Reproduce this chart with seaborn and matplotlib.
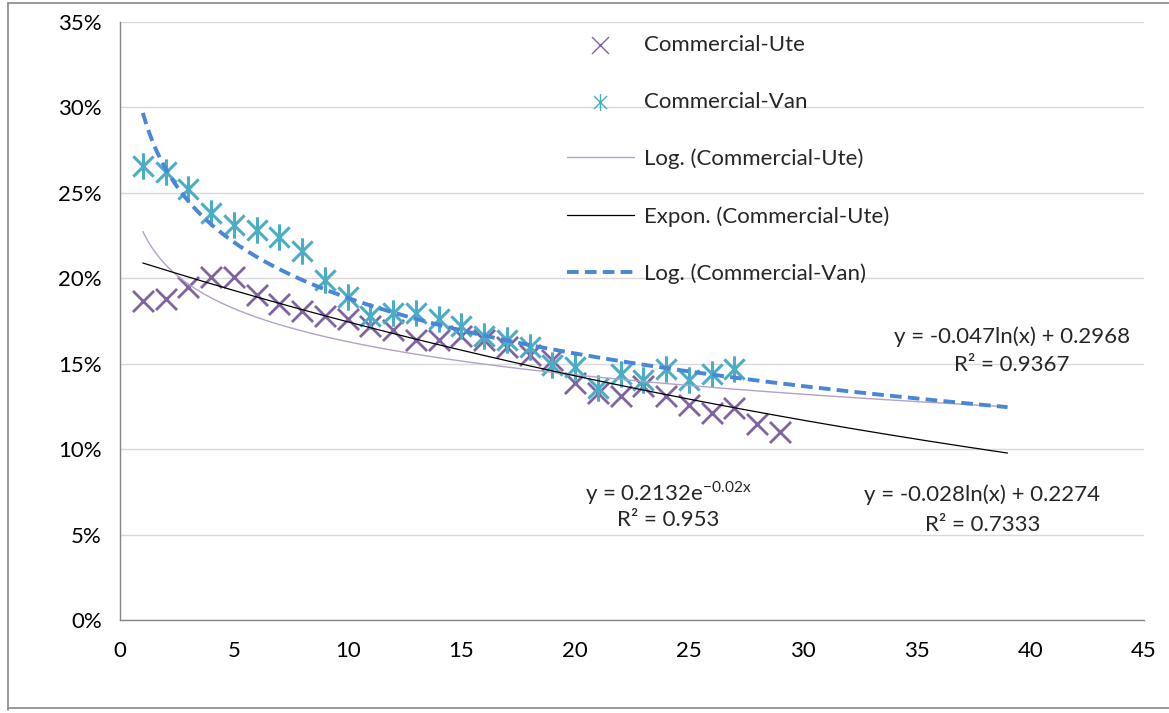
import numpy as np
import pandas as pd
import seaborn as sns
import matplotlib.pyplot as plt
from matplotlib.path import Path
from matplotlib.ticker import PercentFormatter, MultipleLocator
from matplotlib.lines import Line2D

# data
ute_x = list(range(1, 30))
ute_y = [0.187, 0.188, 0.195, 0.201, 0.201, 0.190, 0.185, 0.181, 0.178, 0.176,
         0.172, 0.170, 0.164, 0.164, 0.166, 0.164, 0.160, 0.155, 0.152, 0.139,
         0.133, 0.131, 0.137, 0.131, 0.126, 0.121, 0.124, 0.115, 0.110]
van_x = list(range(1, 28))
van_y = [0.266, 0.262, 0.252, 0.238, 0.231, 0.228, 0.224, 0.216, 0.199, 0.189,
         0.178, 0.1795, 0.1795, 0.176, 0.172, 0.166, 0.164, 0.160, 0.149, 0.148,
         0.136, 0.144, 0.1405, 0.147, 0.1405, 0.144, 0.147]

# trendline coefficients as shown on the chart
ute_log = (-0.028, 0.2274, 0.7333)
ute_exp = (0.2132, -0.02, 0.953)
van_log = (-0.047, 0.2968, 0.9367)
trend_x = np.linspace(1, 39, 200)

sns.set_theme(style="white")
plt.rcParams['font.family'] = ['Lato', 'DejaVu Sans']

ute_df = pd.DataFrame({'x': ute_x, 'y': ute_y})
van_df = pd.DataFrame({'x': van_x, 'y': van_y})
trend_df = pd.DataFrame({
    'x': trend_x,
    'ute_log': ute_log[0] * np.log(trend_x) + ute_log[1],
    'ute_exp': ute_exp[0] * np.exp(ute_exp[1] * trend_x),
    'van_log': van_log[0] * np.log(trend_x) + van_log[1],
})

# asterisk marker like Excel's (X plus vertical bar)
star = Path([(-1, -1), (1, 1), (-1, 1), (1, -1), (0, -1.3), (0, 1.3)],
            [Path.MOVETO, Path.LINETO, Path.MOVETO, Path.LINETO, Path.MOVETO, Path.LINETO])

fig = plt.figure(figsize=(11.69, 7.13), dpi=100)
ax = fig.add_axes([0.1027, 0.1304, 0.8759, 0.8387])

ute_c = '#8064A2'
van_c = '#4BACC6'

sns.scatterplot(data=ute_df, x='x', y='y', marker='x', s=230, color=ute_c,
                linewidth=2, ax=ax, label='Commercial-Ute', zorder=3)
sns.scatterplot(data=van_df, x='x', y='y', marker=star, s=360, color=van_c,
                edgecolor=van_c, linewidth=2.2, ax=ax, label='Commercial-Van', zorder=3)
sns.lineplot(data=trend_df, x='x', y='ute_log', color='#B3A2C7', linewidth=1,
             ax=ax, label='Log. (Commercial-Ute)', zorder=4)
sns.lineplot(data=trend_df, x='x', y='ute_exp', color='black', linewidth=0.9,
             ax=ax, label='Expon. (Commercial-Ute)', zorder=4)
sns.lineplot(data=trend_df, x='x', y='van_log', color='#4A86D8', linewidth=2.8,
             linestyle=(0, (3, 1.6)), ax=ax, label='Log. (Commercial-Van)', zorder=4)

ax.set_xlim(0, 45)
ax.set_ylim(0, 0.35)
ax.xaxis.set_major_locator(MultipleLocator(5))
ax.yaxis.set_major_locator(MultipleLocator(0.05))
ax.yaxis.set_major_formatter(PercentFormatter(1.0, decimals=0))
ax.set_xlabel('')
ax.set_ylabel('')
ax.yaxis.grid(True, color='#D9D9D9', linewidth=1)
ax.set_axisbelow(True)
for side in ['top', 'right']:
    ax.spines[side].set_visible(False)
for side in ['left', 'bottom']:
    ax.spines[side].set_color('#868686')
    ax.spines[side].set_linewidth(1)
ax.tick_params(axis='both', direction='out', length=5, width=1, color='#868686',
               labelsize=16, labelcolor='black')
ax.tick_params(axis='x', pad=10)
ax.tick_params(axis='y', pad=8)

# equation labels
fs = 16
ax.text(39.2, 0.1657, 'y = -0.047ln(x) + 0.2968', ha='center', va='center', fontsize=fs)
ax.text(39.2, 0.1493, 'R² = 0.9367', ha='center', va='center', fontsize=fs)
ax.text(24.1, 0.0744, r'y = 0.2132e$^{\mathregular{-0.02x}}$', ha='center', va='center', fontsize=fs)
ax.text(24.1, 0.0585, 'R² = 0.953', ha='center', va='center', fontsize=fs)
ax.text(37.9, 0.0732, 'y = -0.028ln(x) + 0.2274', ha='center', va='center', fontsize=fs)
ax.text(37.9, 0.0556, 'R² = 0.7333', ha='center', va='center', fontsize=fs)

leg = ax.legend(loc='upper left', bbox_to_anchor=(0.417, 1.012), frameon=False,
                fontsize=fs, labelspacing=1.66, handlelength=3.0, handletextpad=0.45)
for h in leg.legend_handles[:2]:
    h.set_sizes([150])
    h.set_linewidth(1)

# outer chart border
for (x0, y0, x1, y1) in [(0.007, 0.004, 0.007, 0.996), (0.007, 0.996, 1.0, 0.996),
                         (0.007, 0.007, 1.0, 0.007)]:
    fig.add_artist(Line2D([x0, x1], [y0, y1], color='#888888', linewidth=1.2))

fig.savefig('out.png', dpi=100)
